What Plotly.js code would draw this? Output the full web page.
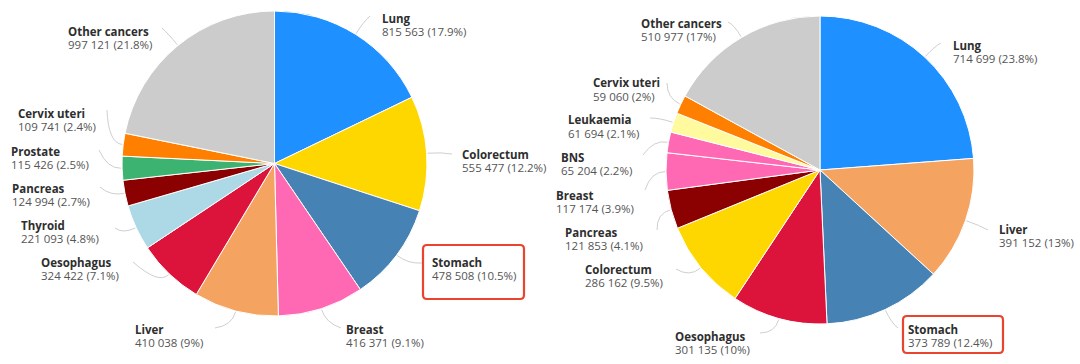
<!DOCTYPE html>
<html><head><meta charset="utf-8">
<script src="https://cdn.plot.ly/plotly-3.0.1.min.js"></script>
<style>html,body{margin:0;padding:0;background:#fff}#chart{width:1080px;height:364px}</style>
</head><body><div id="chart"></div>
<script>
// ---- data ----
const leftCategories = ['Lung','Colorectum','Stomach','Breast','Liver','Oesophagus','Thyroid','Pancreas','Prostate','Cervix uteri','Other cancers'];
const leftValues = [815563, 555477, 478508, 416371, 410038, 324422, 221093, 124994, 115426, 109741, 997121];
const rightCategories = ['Lung','Liver','Stomach','Oesophagus','Colorectum','Pancreas','Breast','BNS','Leukaemia','Cervix uteri','Other cancers'];
const rightValues = [714699, 391152, 373789, 301135, 286162, 121853, 117174, 65204, 61694, 59060, 510977];
const highlighted = 'Stomach';

// ---- styles ----
const colorOf = {
  'Lung':'#1E90FF','Colorectum':'#FFD700','Stomach':'#4682B4','Breast':'#FF69B4','Liver':'#F4A460',
  'Oesophagus':'#DC143C','Thyroid':'#ADD8E6','Pancreas':'#8B0000','Prostate':'#3CB371',
  'Cervix uteri':'#FF7F00','Other cancers':'#CCCCCC','BNS':'#FF69B4','Leukaemia':'#FFFA9E'
};
const W = 1080, H = 364;
// pie geometry (pixels): center & radius
const pies = [
  {cx:274.5, cy:163.5, r:152.5, cats:leftCategories, vals:leftValues,
   // label layout: [textX, nameY, lineEndX, lineEndY]
   labels:[[381,18.5,370,16],[461,154,452,154],[431,262.5,422,263],[345,329,341,328],[134,329,215,328],
           [40,262.5,133,262],[20,225,115,228],[11,188,100,187],[10,151,99,150],[17,113.5,107,110],[67,31.5,162,28]],
   box:[423,245,524,299]},
  {cx:820, cy:170, r:154, cats:rightCategories, vals:rightValues,
   labels:[[952,45,941,43],[998,229,988,230],[907,329.5,898,328],[674,336,760,333],[584,269.5,676,269],
           [564,232.5,657,230],[555,195,645,190],[560,157.5,643,155],[567,120,650,118],[592,83,667,83],[640,23.5,728,22]],
   box:[903,316,1003,353]}
];

const px = x => x / W;
const py = y => 1 - y / H;
const fmtNum = v => String(v).replace(/\B(?=(\d{3})+(?!\d))/g, ' ');

const traces = [], annotations = [], shapes = [];
pies.forEach(p => {
  traces.push({
    type:'pie', labels:p.cats, values:p.vals, sort:false, direction:'clockwise', rotation:0,
    marker:{colors:p.cats.map(c => colorOf[c]), line:{color:'#ffffff', width:1}},
    textinfo:'none', hoverinfo:'label+value+percent', showlegend:false,
    domain:{x:[px(p.cx - p.r), px(p.cx + p.r)], y:[py(p.cy + p.r), py(p.cy - p.r)]}
  });
  const total = p.vals.reduce((a,b) => a + b, 0);
  let cum = 0;
  p.vals.forEach((v, i) => {
    const mid = (cum + v / 2) / total * 2 * Math.PI;
    cum += v;
    const s = Math.sin(mid), c = Math.cos(mid);
    const ex = p.cx + (p.r + 1) * s, ey = p.cy - (p.r + 1) * c;
    const qx = p.cx + (p.r + 15) * s, qy = p.cy - (p.r + 15) * c;
    const [tx, ny, ax, ay] = p.labels[i];
    shapes.push({type:'path', xref:'paper', yref:'paper',
      path:`M ${px(ax)},${py(ay)} Q ${px(qx)},${py(qy)} ${px(ex)},${py(ey)}`,
      line:{color:'#cfcfcf', width:1}});
    const pct = Math.round(v / total * 1000) / 10;
    annotations.push({xref:'paper', yref:'paper', x:px(tx), y:py(ny), xanchor:'left', yanchor:'middle',
      showarrow:false, text:'<b>' + p.cats[i] + '</b>', font:{family:'Open Sans', size:11.5, color:'#2e2e2e'}, borderpad:0});
    annotations.push({xref:'paper', yref:'paper', x:px(tx), y:py(ny + 13.3), xanchor:'left', yanchor:'middle',
      showarrow:false, text:fmtNum(v) + ' (' + pct + '%)', font:{family:'Open Sans', size:11.5, color:'#555555'}, borderpad:0});
  });
  // highlight box around the Stomach label
  const [x0, y0, x1, y1] = p.box, rr = 4;
  shapes.push({type:'path', xref:'paper', yref:'paper',
    path:`M ${px(x0+rr)},${py(y0)} L ${px(x1-rr)},${py(y0)} Q ${px(x1)},${py(y0)} ${px(x1)},${py(y0+rr)} ` +
         `L ${px(x1)},${py(y1-rr)} Q ${px(x1)},${py(y1)} ${px(x1-rr)},${py(y1)} ` +
         `L ${px(x0+rr)},${py(y1)} Q ${px(x0)},${py(y1)} ${px(x0)},${py(y1-rr)} ` +
         `L ${px(x0)},${py(y0+rr)} Q ${px(x0)},${py(y0)} ${px(x0+rr)},${py(y0)} Z`,
    line:{color:'#E8442E', width:2.2}});
});

Plotly.newPlot('chart', traces, {
  width:W, height:H, margin:{l:0, r:0, t:0, b:0},
  paper_bgcolor:'#ffffff', plot_bgcolor:'#ffffff',
  annotations:annotations, shapes:shapes, showlegend:false
}, {displayModeBar:false, staticPlot:true});
</script>
</body></html>
